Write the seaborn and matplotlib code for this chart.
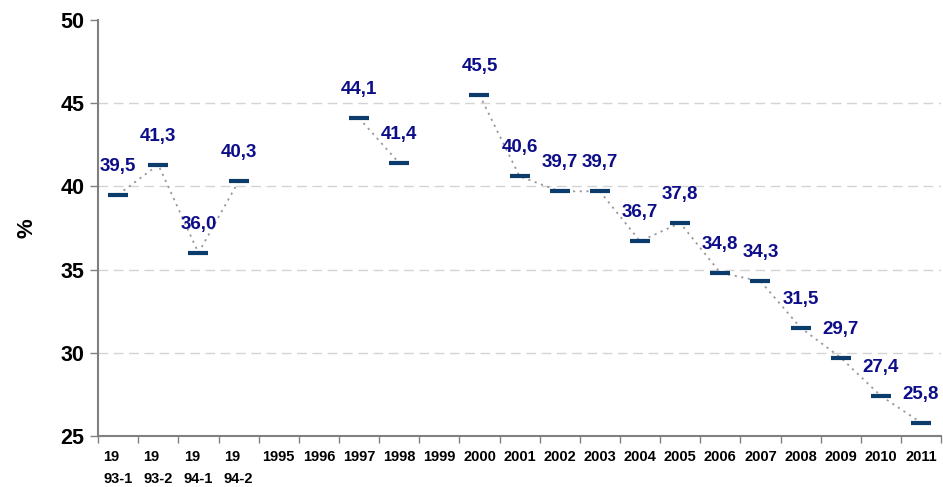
import numpy as np
import pandas as pd
import matplotlib
matplotlib.use("Agg")
import matplotlib.pyplot as plt
import seaborn as sns

periods = ["19\n93-1", "19\n93-2", "19\n94-1", "19\n94-2", "1995", "1996", "1997",
           "1998", "1999", "2000", "2001", "2002", "2003", "2004", "2005", "2006",
           "2007", "2008", "2009", "2010", "2011"]
values = [39.5, 41.3, 36.0, 40.3, np.nan, np.nan, 44.1, 41.4, np.nan, 45.5, 40.6,
          39.7, 39.7, 36.7, 37.8, 34.8, 34.3, 31.5, 29.7, 27.4, 25.8]
y_ticks = [25, 30, 35, 40, 45, 50]

df = pd.DataFrame({"pos": np.arange(len(periods)), "period": periods, "value": values})
# contiguous runs of observed values are drawn as separate line pieces
df["run"] = df["value"].isna().cumsum()
obs = df.dropna(subset=["value"])

sns.set_theme(style="white")
plt.rcParams["font.family"] = ["Liberation Sans", "DejaVu Sans"]

fig = plt.figure(figsize=(9.43, 4.87), dpi=100)
ax = fig.add_axes([0.104, 0.105, 0.894, 0.854])

for yv in y_ticks[1:-1]:
    ax.axhline(yv, color="#d4d4d4", lw=1, ls=(0, (7, 4)), zorder=0)

sns.lineplot(data=obs, x="pos", y="value", units="run", estimator=None,
             color="#999999", lw=1.3, ls=(0, (1.2, 2.5)), ax=ax, zorder=2,
             legend=False)
sns.scatterplot(data=obs, x="pos", y="value", marker="_", s=190, linewidth=3,
                color="#0b3c6b", ax=ax, zorder=3, legend=False)

for _, r in obs.iterrows():
    ax.annotate(f"{r['value']:.1f}".replace(".", ","), (r["pos"], r["value"]),
                xytext=(0, 20.5), textcoords="offset points", ha="center",
                va="center", fontsize=13.5, fontweight="bold", color="#0d0d8a")

ax.set_xlim(-0.5, len(periods) - 0.5)
ax.set_ylim(25, 50)
ax.set_yticks(y_ticks)
ax.set_yticklabels([str(t) for t in y_ticks], fontsize=15.5, fontweight="bold",
                   color="black")
ax.set_xticks(df["pos"])
ax.set_xticklabels(periods, fontsize=10.5, fontweight="bold", linespacing=1.75,
                   va="top", color="black")
ax.set_xticks(np.arange(len(periods) + 1) - 0.5, minor=True)
ax.tick_params(axis="x", which="major", length=0, pad=10)
ax.tick_params(axis="x", which="minor", length=5, width=1, color="#808080",
               direction="out", bottom=True)
ax.tick_params(axis="y", length=6, width=1, color="#808080", direction="out",
               left=True, pad=4)
for lab in ax.get_xticklabels():
    lab.set_horizontalalignment("center")
    lab.set_multialignment("left")

ax.set_xlabel("")
ax.set_ylabel("%", fontsize=16, fontweight="bold", labelpad=16, color="black")
for side in ["top", "right"]:
    ax.spines[side].set_visible(False)
for side in ["left", "bottom"]:
    ax.spines[side].set_color("#808080")
    ax.spines[side].set_linewidth(1.5)

fig.savefig("out.png", dpi=100)
